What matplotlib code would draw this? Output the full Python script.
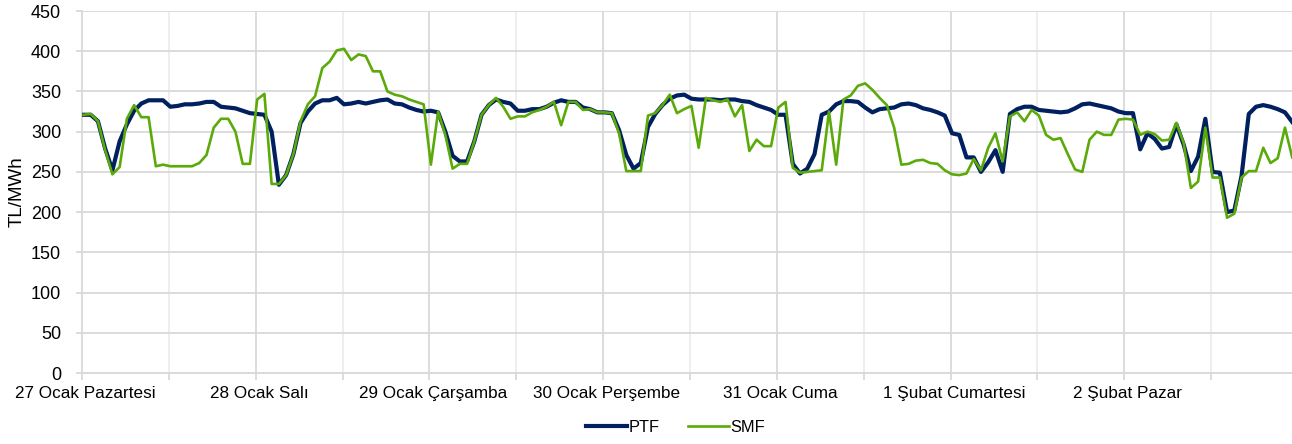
import numpy as np
import matplotlib
matplotlib.use("Agg")
import matplotlib.pyplot as plt

# gün etiketleri (her 24 saatte bir)
days = ["27 Ocak Pazartesi", "28 Ocak Salı", "29 Ocak Çarşamba", "30 Ocak Perşembe",
        "31 Ocak Cuma", "1 Şubat Cumartesi", "2 Şubat Pazar"]

# saatlik PTF (TL/MWh)
ptf = [321, 321, 313, 279, 252, 288, 309, 326, 335, 339, 339, 339, 331, 332, 334, 334, 335, 337, 337, 331, 330, 329, 326, 323,
       322, 321, 300, 234, 246, 272, 311, 325, 335, 339, 339, 342, 334, 335, 337, 335, 337, 339, 340, 335, 334, 330, 327, 325,
       326, 324, 300, 270, 263, 263, 288, 321, 333, 340, 337, 335, 326, 326, 328, 328, 331, 336, 339, 337, 337, 330, 328, 324,
       324, 323, 302, 271, 254, 261, 306, 322, 333, 341, 345, 346, 341, 340, 340, 340, 339, 340, 340, 338, 337, 333, 330, 327,
       321, 321, 260, 248, 254, 272, 321, 325, 334, 338, 338, 337, 330, 324, 328, 329, 330, 334, 335, 333, 329, 327, 324, 320,
       298, 296, 268, 268, 250, 262, 277, 250, 322, 328, 331, 331, 327, 326, 325, 324, 325, 329, 334, 335, 333, 331, 329, 325,
       323, 323, 278, 298, 291, 279, 281, 309, 284, 251, 269, 316, 250, 249, 200, 202, 245, 322, 331, 333, 331, 328, 324, 312]

# saatlik SMF (TL/MWh)
smf = [321, 322, 313, 277, 247, 256, 316, 333, 318, 318, 257, 259, 257, 257, 257, 257, 261, 271, 305, 316, 316, 300, 260, 260,
       340, 347, 235, 235, 246, 272, 313, 334, 344, 379, 387, 401, 403, 389, 396, 394, 375, 375, 350, 346, 344, 340, 337, 334,
       259, 325, 296, 254, 260, 260, 288, 321, 333, 342, 331, 316, 319, 319, 324, 327, 331, 337, 308, 337, 337, 327, 328, 324,
       324, 323, 298, 251, 251, 251, 320, 323, 333, 346, 323, 328, 332, 280, 342, 339, 337, 340, 319, 333, 276, 290, 282, 282,
       330, 337, 255, 249, 250, 251, 252, 325, 259, 340, 345, 357, 360, 352, 342, 333, 305, 259, 260, 264, 265, 261, 260, 252,
       247, 246, 248, 266, 252, 280, 298, 263, 319, 324, 313, 327, 320, 296, 290, 292, 272, 253, 250, 290, 300, 296, 296, 315,
       316, 315, 296, 300, 297, 289, 290, 311, 286, 230, 238, 305, 243, 243, 193, 198, 243, 251, 251, 280, 261, 267, 305, 268]

plt.rcParams['font.family'] = ['Liberation Sans', 'DejaVu Sans']
plt.rcParams['font.size'] = 12

fig = plt.figure(figsize=(12.92, 4.44), dpi=100)
ax = fig.add_axes([82 / 1292, 71 / 444, 1216 / 1292, 362 / 444])

x = np.arange(len(ptf)) + 0.2

# izgara
for k in range(12, 168, 12):
    c = '#d9d9d9' if k % 24 == 0 else '#ededed'
    ax.axvline(k, color=c, lw=1.3, zorder=0)
ax.set_ylim(0, 450)
ax.set_yticks(np.arange(0, 451, 50))
ax.yaxis.grid(True, color='#d9d9d9', lw=1.3)
ax.set_axisbelow(True)

ax.plot(x, ptf, color='#002060', lw=3.0, label='PTF', solid_joinstyle='round', zorder=3)
ax.plot(x, smf, color='#5BAA0A', lw=1.9, label='SMF', solid_joinstyle='round', zorder=4)

ax.set_xlim(0, 168)
ax.set_xticks(np.arange(0, 168, 12))
ax.set_xticklabels([])
ax.set_xticks(np.arange(0, 168, 24) + 0.5, minor=True)
ax.set_xticklabels(days, minor=True)
ax.tick_params(axis='x', which='major', length=5, color='#d9d9d9', width=1.3)
ax.tick_params(axis='x', which='minor', length=0, pad=9, labelsize=12.3)
ax.tick_params(axis='y', length=4, color='#d9d9d9', width=1.3, pad=11, labelsize=13)

for s in ['top', 'right']:
    ax.spines[s].set_visible(False)
for s in ['left', 'bottom']:
    ax.spines[s].set_color('#d9d9d9')
    ax.spines[s].set_linewidth(1.3)

ax.set_ylabel('TL/MWh', fontsize=13.5, labelpad=4)

fig.legend(loc='lower center', bbox_to_anchor=(0.523, -0.012), ncol=2, frameon=False,
           handlelength=2.5, handletextpad=0.1, columnspacing=1.7, fontsize=11.8)

fig.savefig('out.png', dpi=100)
